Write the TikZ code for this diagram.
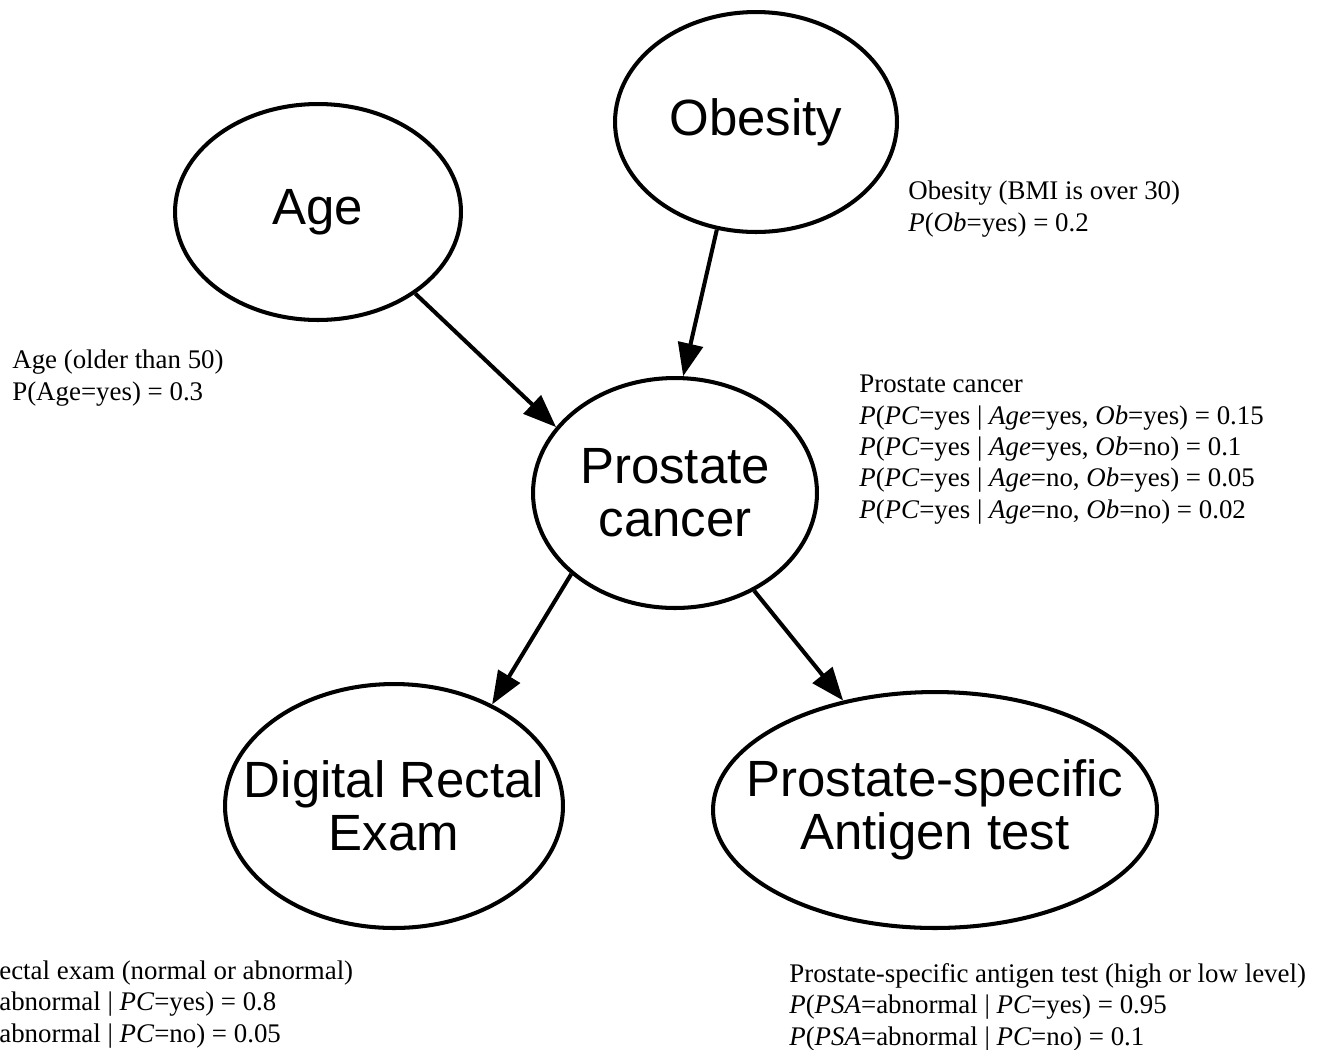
\documentclass[tikz,border=0pt]{standalone}
\usepackage{fontspec}
\setmainfont{Liberation Serif}
\newfontfamily\varfont{Liberation Sans}
\usetikzlibrary{arrows.meta,shapes.geometric}

\tikzset{
    var/.style={draw, ellipse, line width=2.3pt, inner sep=0pt},
    varname/.style={font=\varfont\fontsize{29}{30}\selectfont, align=center},
    cpt/.style={anchor=base west, align=left, inner sep=0pt, font=\fontsize{15.3}{17.8}\selectfont},
    arr/.style={line width=2.3pt, -{Triangle[length=0.66cm, width=0.5cm]}}
}

\begin{document}
\begin{tikzpicture}[x=0.02cm, y=-0.02cm]
    \useasboundingbox (0,0) rectangle (1324,1049);
    \node[var, minimum width=5.72cm, minimum height=4.32cm, label={[varname]center:Age}] (age) at (318,212) {};
    \node[var, minimum width=5.64cm, minimum height=4.40cm, label={[varname]center:Obesity}] (ob) at (756,122) {};
    \node[var, minimum width=5.68cm, minimum height=4.60cm, label={[varname]center:{Prostate\\cancer}}] (pc) at (675,493) {};
    \node[var, minimum width=6.76cm, minimum height=4.88cm, label={[varname]center:{Digital Rectal\\Exam}}] (dre) at (394,806) {};
    \node[var, minimum width=8.88cm, minimum height=4.72cm, label={[varname]center:{Prostate-specific\\Antigen test}}] (psa) at (935,810) {};
    \draw[arr] (age.-40) -- (pc.151);
    \draw[arr] (ob.-110) -- (pc.86);
    \draw[arr] (pc.-142) -- (dre.46);
    \draw[arr] (pc.-51) -- (psa.130);
    % probability tables (anchored at the baseline of the last line)
    \node[cpt] (agecpt) at (12,400) {Age (older than 50)\\P(Age=yes) = 0.3};
    \node[cpt] (obcpt) at (908,231) {Obesity (BMI is over 30)\\\textit{P}(\textit{Ob}=yes) = 0.2};
    \node[cpt] (pccpt) at (859,518) {Prostate cancer\\
        \textit{P}(\textit{PC}=yes | \textit{Age}=yes, \textit{Ob}=yes) = 0.15\\
        \textit{P}(\textit{PC}=yes | \textit{Age}=yes, \textit{Ob}=no) = 0.1\\
        \textit{P}(\textit{PC}=yes | \textit{Age}=no, \textit{Ob}=yes) = 0.05\\
        \textit{P}(\textit{PC}=yes | \textit{Age}=no, \textit{Ob}=no) = 0.02};
    \node[cpt] (drecpt) at (-1,1042) {ectal exam (normal or abnormal)\\
        abnormal | \textit{PC}=yes) = 0.8\\
        abnormal | \textit{PC}=no) = 0.05};
    \node[cpt] (psacpt) at (789,1045) {Prostate-specific antigen test (high or low level)\\
        \textit{P}(\textit{PSA}=abnormal | \textit{PC}=yes) = 0.95\\
        \textit{P}(\textit{PSA}=abnormal | \textit{PC}=no) = 0.1};
\end{tikzpicture}
\end{document}
